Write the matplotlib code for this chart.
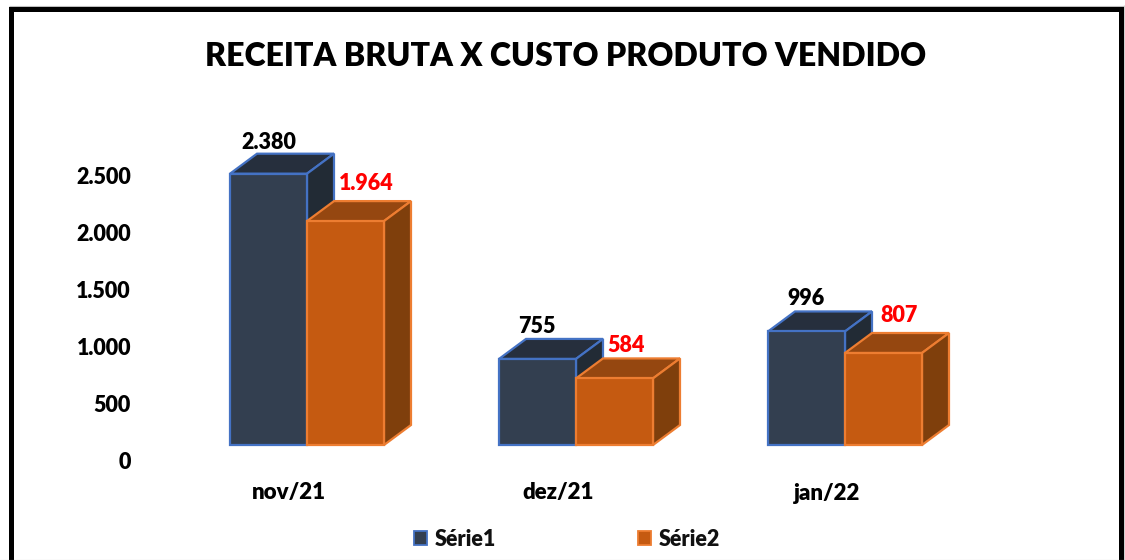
import matplotlib
matplotlib.use("Agg")
import matplotlib.pyplot as plt
from matplotlib.patches import Polygon, Rectangle
from matplotlib.lines import Line2D

categories = ["nov/21", "dez/21", "jan/22"]
serie1 = [2380, 755, 996]
serie2 = [1964, 584, 807]
labels1 = ["2.380", "755", "996"]
labels2 = ["1.964", "584", "807"]
y_ticks = [0, 500, 1000, 1500, 2000, 2500]
y_tick_labels = ["0", "500", "1.000", "1.500", "2.000", "2.500"]
title = "RECEITA BRUTA X CUSTO PRODUTO VENDIDO"
series_names = ["Série1", "Série2"]

W, H = 1125, 560
FONT = "Lato"
plt.rcParams["font.family"] = [FONT, "DejaVu Sans"]
plt.rcParams["font.weight"] = "heavy"

fig = plt.figure(figsize=(W / 100, H / 100), dpi=100, facecolor="white")
ax = fig.add_axes([0, 0, 1, 1])
ax.axis("off")

# scale: group spacing 269 px, 0.114 px per unit, baseline at pixel row 445
px_x, px_y = 269.0, 0.114
ax.set_xlim(-307 / px_x, (W - 307) / px_x)
ax.set_ylim(-(H - 445) / px_y, 445 / px_y)

bw = 77 / px_x
dx = 27 / px_x
dy = 20 / px_y

S1 = dict(front="#333F50", top="#262F3D", side="#222B35", edge="#4472C4")
S2 = dict(front="#C55A11", top="#954710", side="#7F3F0C", edge="#ED7D31")


def box(x0, v, c, z):
    x1 = x0 + bw
    kw = dict(edgecolor=c["edge"], linewidth=1.6, joinstyle="miter", zorder=z)
    ax.add_patch(Polygon([(x0, v), (x0 + dx, v + dy), (x1 + dx, v + dy), (x1, v)],
                         facecolor=c["top"], **kw))
    ax.add_patch(Polygon([(x1, 0), (x1 + dx, dy), (x1 + dx, v + dy), (x1, v)],
                         facecolor=c["side"], **kw))
    ax.bar(x0, v, width=bw, align="edge", facecolor=c["front"],
           edgecolor=c["edge"], linewidth=1.6, zorder=z)


for i in range(len(categories)):
    box(i - bw, serie1[i], S1, 2)
    box(i, serie2[i], S2, 3)

# data labels
off1 = [(0, 31), (-1, 32), (0, 33)]
off2 = [(21, 38), (12, 33), (16, 38)]
for i in range(len(categories)):
    ax.annotate(labels1[i], (i - bw / 2, serie1[i]), xytext=off1[i], textcoords="offset pixels",
                ha="center", va="center", fontsize=15.5, color="black", zorder=5)
    ax.annotate(labels2[i], (i + bw / 2, serie2[i]), xytext=off2[i], textcoords="offset pixels",
                ha="center", va="center", fontsize=15.5, color="#FF0000", zorder=5)

# value axis labels
for t, s in zip(y_ticks, y_tick_labels):
    ax.annotate(s, (-176 / px_x, t), xytext=(0, -17.4), textcoords="offset pixels",
                ha="right", va="center", fontsize=15.5, color="black")

# category labels
for i, s in enumerate(categories):
    ax.annotate(s, (i, 0), xytext=(-18, -48), textcoords="offset pixels",
                ha="center", va="center", fontsize=16, color="black")

fig.text(565.5 / W, 1 - 56 / H, title, ha="center", va="center", fontsize=23.1, color="black")

handles = [Rectangle((0, 0), 1, 1, facecolor=S1["front"], edgecolor=S1["edge"], linewidth=1.3),
           Rectangle((0, 0), 1, 1, facecolor=S2["front"], edgecolor=S2["edge"], linewidth=1.3)]
fig.legend(handles, series_names, loc="center", bbox_to_anchor=(567 / W, 1 - 539 / H), ncol=2,
           frameon=False, fontsize=15.5, handlelength=0.6, handleheight=0.6,
           handletextpad=0.35, columnspacing=6.6, labelcolor="#111111")

# outer frame
def frame(xs, ys, color, lw):
    fig.add_artist(Line2D([x / W for x in xs], [1 - y / H for y in ys], color=color, linewidth=lw,
                          solid_capstyle="butt", solid_joinstyle="miter"))

frame([9, 1124], [5.5, 5.5], "#BFBFBF", 0.8)
frame([1124, 1124], [5, H], "#D0D0D0", 0.8)
frame([10.5, 10.5, 1121, 1121], [H, 8.5, 8.5, H], "black", 3.6)
frame([0, W], [559.5, 559.5], "#A6A6A6", 0.8)

fig.savefig("out.png", dpi=100, facecolor="white")
